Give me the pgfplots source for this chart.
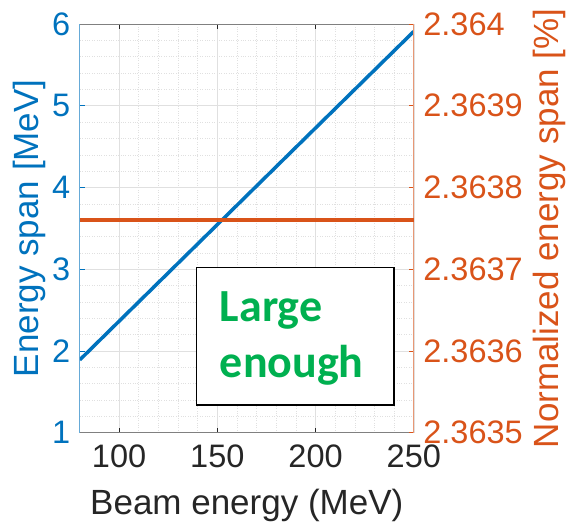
\documentclass[border=0pt]{standalone}
\usepackage{fontspec}
\setmainfont{Liberation Sans}
\newfontfamily\calib{Carlito}
\usepackage{pgfplots}
\pgfplotsset{compat=1.18}
\definecolor{mblue}{RGB}{0,114,189}
\definecolor{morange}{RGB}{217,83,25}
\definecolor{mgreen}{RGB}{0,176,80}
\definecolor{mdark}{RGB}{38,38,38}
\definecolor{mgrid}{RGB}{224,224,224}
\begin{document}
\begin{tikzpicture}
\path[use as bounding box] (-79.8pt,-94.3pt) rectangle (486.2pt,432.7pt);
\begin{axis}[
  scale only axis, width=334pt, height=408.7pt,
  xmin=80, xmax=250, ymin=1, ymax=6,
  xtick={100,150,200,250}, ytick={1,2,3,4,5,6},
  minor x tick num=4, minor y tick num=4,
  axis x line*=box, axis y line*=left,
  x axis line style={draw=gray, line width=0.6pt},
  y axis line style={draw=mblue!60, line width=0.6pt},
  xtick style={draw=mdark, line width=0.6pt},
  ytick style={draw=mblue, line width=0.6pt},
  minor tick length=0pt, major tick length=5pt,
  tick align=inside,
  grid=both,
  major grid style={draw=mgrid, line width=0.5pt},
  minor grid style={draw=mgrid, dotted, line width=0.5pt},
  /pgf/number format/assume math mode=true,
  tick label style={font=\fontsize{32.5}{39}\selectfont},
  xticklabel style={text=mdark},
  yticklabel style={text=mblue},
  label style={font=\fontsize{35}{42}\selectfont},
  xlabel={Beam energy (MeV)},
  xlabel style={text=mdark, at={(axis description cs:0.5,-0.177)}, anchor=center},
  ylabel={Energy span [MeV]},
  ylabel style={text=mblue, at={(axis description cs:-0.15,0.5)}, anchor=center},
  xticklabel shift=9pt, yticklabel shift=6pt,
]
\addplot[mblue, line width=3.5pt] coordinates {(80,1.891) (100,2.364) (150,3.546) (200,4.728) (250,5.909)};
\draw[black, line width=1.6pt, fill=white] (axis cs:139.3,1.34) rectangle (axis cs:239.8,3.02);
\node[anchor=base west, text=mgreen, font=\calib\bfseries\fontsize{46}{56}\selectfont] at (axis cs:149.5,2.355) {Large};
\node[anchor=base west, text=mgreen, font=\calib\bfseries\fontsize{46}{56}\selectfont] at (axis cs:149.5,1.67) {enough};
\end{axis}
\begin{axis}[
  scale only axis, width=334pt, height=408.7pt,
  xmin=80, xmax=250, ymin=2.3635, ymax=2.364,
  axis x line=none, axis y line*=right,
  ytick={2.3635,2.3636,2.3637,2.3638,2.3639,2.364},
  yticklabels={2.3635,2.3636,2.3637,2.3638,2.3639,2.364},
  scaled y ticks=false,
  y axis line style={draw=morange!60, line width=0.6pt},
  ytick style={draw=morange, line width=0.6pt},
  major tick length=5pt, tick align=inside,
  /pgf/number format/assume math mode=true,
  tick label style={font=\fontsize{32.5}{39}\selectfont},
  yticklabel style={text=morange},
  ylabel={Normalized energy span [\%]},
  ylabel style={text=morange, font=\fontsize{35}{42}\selectfont, at={(axis description cs:1.405,0.5)}, anchor=center},
  yticklabel shift=6pt,
]
\addplot[morange, line width=3.5pt] coordinates {(80,2.36376) (150,2.36376) (250,2.36376)};
\end{axis}
\end{tikzpicture}
\end{document}
